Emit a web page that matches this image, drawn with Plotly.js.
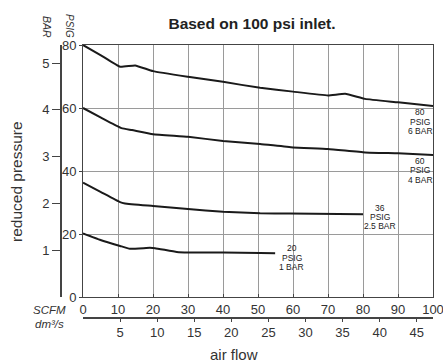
<!DOCTYPE html>
<html>
<head>
<meta charset="utf-8">
<script src="https://cdn.plot.ly/plotly-3.0.1.min.js"></script>
<style>html,body{margin:0;padding:0;background:#fff;}#chart{width:443px;height:362px;}</style>
</head>
<body>
<div id="chart"></div>
<script>
// ---- data ----
const scfm80 = [0, 5, 10.6, 14.9, 20, 30, 40, 50.6, 60, 70, 74.9, 80.6, 90, 100];
const psig80 = [80, 76.8, 73.1, 73.5, 71.7, 69.9, 68.3, 66.4, 65.2, 64.0, 64.5, 62.9, 61.8, 60.6];

const scfm60 = [0, 5, 11, 14, 20, 30, 40, 50.6, 60, 70, 80.6, 90, 100];
const psig60 = [60, 57.0, 53.6, 53.0, 51.7, 50.9, 49.5, 48.6, 47.5, 47.0, 45.9, 45.6, 45.1];

const scfm36 = [0, 5, 10.6, 12, 20, 30, 40, 50.6, 59, 80];
const psig36 = [36.3, 33.4, 30.1, 29.7, 28.9, 27.9, 27.1, 26.6, 26.5, 26.3];

const scfm20 = [0, 5, 10.6, 13.4, 19.1, 20.6, 26.8, 30, 40, 50.6, 54.9];
const psig20 = [20.2, 18.1, 16.2, 15.3, 15.6, 15.5, 14.3, 14.1, 14.1, 14.0, 13.9];

const psigTicks = [0, 20, 40, 60, 80];
const barTicks = [1, 2, 3, 4, 5];
const scfmTicks = [0, 10, 20, 30, 40, 50, 60, 70, 80, 90, 100];
const dm3Ticks = [5, 10, 15, 20, 25, 30, 35, 40, 45];

const label80 = ['80', 'PSIG', '6 BAR'];
const label60 = ['60', 'PSIG', '4 BAR'];
const label36 = ['36', 'PSIG', '2.5 BAR'];
const label20 = ['20', 'PSIG', '1 BAR'];

const titleText = 'Based on 100 psi inlet.';
const xTitle = 'air flow';
const yTitle = 'reduced pressure';

// ---- geometry helpers (pixel -> paper) ----
const W = 443, H = 362;
const px = v => v / W;
const py = v => 1 - v / H;
const SCFM_PER_DM3 = 2.11888;
const BAR_TOP = 5.385;

const FONT = '"Liberation Sans", Arial, sans-serif';
const TXT = '#333';
const lineStyle = {color: '#1a1a1a', width: 2, shape: 'spline', smoothing: 0.35};

const traces = [
  {x: scfm80, y: psig80},
  {x: scfm60, y: psig60},
  {x: scfm36, y: psig36},
  {x: scfm20, y: psig20}
].map(t => Object.assign(t, {type: 'scatter', mode: 'lines', line: lineStyle, xaxis: 'x', yaxis: 'y', hoverinfo: 'skip'}));

// invisible traces to activate secondary axes
traces.push({x: [0], y: [0], xaxis: 'x2', yaxis: 'y', mode: 'markers', marker: {opacity: 0}, hoverinfo: 'skip'});
traces.push({x: [0], y: [0], xaxis: 'x', yaxis: 'y2', mode: 'markers', marker: {opacity: 0}, hoverinfo: 'skip'});

const xDom = [px(83), px(433)];
const yDom = [py(297), py(45)];

const annotations = [];
function addLabel(lines, xc, yc) {
  const step = 3.0;
  lines.forEach((s, i) => {
    annotations.push({
      text: s, xref: 'x', yref: 'y', x: xc, y: yc + step * (1 - i),
      showarrow: false, xanchor: 'center', yanchor: 'middle',
      font: {family: FONT, size: 8.5, color: '#222'}
    });
  });
}
addLabel(label80, 96.3, 55.6);
addLabel(label60, 96.3, 40.3);
addLabel(label36, 84.9, 25.4);
addLabel(label20, 59.7, 12.4);

annotations.push({text: '<i>PSIG</i>', xref: 'paper', yref: 'paper', x: px(70), y: py(26), textangle: 90,
  showarrow: false, font: {family: FONT, size: 10, color: TXT}, xanchor: 'center', yanchor: 'middle'});
annotations.push({text: '<i>BAR</i>', xref: 'paper', yref: 'paper', x: px(47), y: py(27), textangle: 90,
  showarrow: false, font: {family: FONT, size: 10.5, color: TXT}, xanchor: 'center', yanchor: 'middle'});
annotations.push({text: '<i>SCFM</i>', xref: 'paper', yref: 'paper', x: px(49), y: py(310),
  showarrow: false, font: {family: FONT, size: 11.5, color: TXT}, xanchor: 'center', yanchor: 'middle'});
annotations.push({text: '<i>dm³/s</i>', xref: 'paper', yref: 'paper', x: px(49), y: py(324),
  showarrow: false, font: {family: FONT, size: 11.5, color: TXT}, xanchor: 'center', yanchor: 'middle'});
annotations.push({text: xTitle, xref: 'paper', yref: 'paper', x: px(234), y: py(354),
  showarrow: false, font: {family: FONT, size: 15, color: TXT}, xanchor: 'center', yanchor: 'middle'});
annotations.push({text: yTitle, xref: 'paper', yref: 'paper', x: px(16), y: py(182), textangle: -90,
  showarrow: false, font: {family: FONT, size: 15.5, color: TXT}, xanchor: 'center', yanchor: 'middle'});

const layout = {
  width: W, height: H,
  margin: {l: 0, r: 0, t: 0, b: 0},
  paper_bgcolor: '#fff', plot_bgcolor: '#fff',
  showlegend: false,
  title: {text: '<b>' + titleText + '</b>', x: px(252), y: py(24), xanchor: 'center', yanchor: 'middle',
    font: {family: FONT, size: 15.5, color: '#222'}},
  xaxis: {
    domain: xDom, anchor: 'y', range: [0, 100], tickvals: scfmTicks,
    showgrid: true, gridcolor: '#9a9a9a', gridwidth: 1,
    showline: true, linecolor: '#444', linewidth: 1, mirror: true,
    ticks: 'inside', ticklen: 3, tickcolor: '#444', ticklabeloverflow: 'allow',
    tickfont: {family: FONT, size: 13, color: TXT}, zeroline: false, fixedrange: true
  },
  xaxis2: {
    domain: xDom, anchor: 'free', position: py(317), overlaying: 'x', side: 'bottom',
    range: [0, 100 / SCFM_PER_DM3], tickvals: dm3Ticks,
    showgrid: false, showline: true, linecolor: '#444', linewidth: 1.5,
    ticks: 'outside', ticklen: 3, tickcolor: '#444', ticklabeloverflow: 'allow',
    tickfont: {family: FONT, size: 13, color: TXT}, zeroline: false, fixedrange: true
  },
  yaxis: {
    domain: yDom, anchor: 'x', range: [0, 80], tickvals: psigTicks,
    showgrid: true, gridcolor: '#9a9a9a', gridwidth: 1,
    showline: true, linecolor: '#444', linewidth: 1, mirror: true,
    ticks: 'outside', ticklen: 3, tickcolor: '#444', ticklabeloverflow: 'allow',
    tickfont: {family: FONT, size: 13, color: TXT}, zeroline: false, fixedrange: true
  },
  yaxis2: {
    domain: yDom, anchor: 'free', position: px(60), overlaying: 'y', side: 'left',
    range: [0, BAR_TOP], tickvals: barTicks,
    showgrid: false, showline: true, linecolor: '#444', linewidth: 1.5,
    ticks: 'outside', ticklen: 8, tickcolor: '#444', ticklabeloverflow: 'allow',
    tickfont: {family: FONT, size: 13, color: TXT}, zeroline: false, fixedrange: true
  },
  annotations: annotations
};

Plotly.newPlot('chart', traces, layout, {staticPlot: true, displayModeBar: false});
</script>
</body>
</html>
